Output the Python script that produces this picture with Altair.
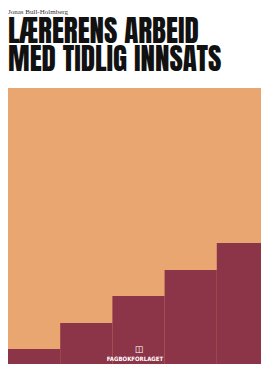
import altair as alt
import pandas as pd

steps = [1, 2, 3, 4, 5]
step_heights = [23, 49, 76, 102, 129]
field_top = [284]

title_lines = ["LÆRERENS ARBEID", "MED TIDLIG INNSATS"]
title_rows = [0, 1]
author = ["Jonas Bull-Holmberg"]
publisher = ["FAGBOKFORLAGET"]

W, H = 253, 356
ORANGE = "#E9A671"
MAROON = "#8C3548"

yscale = alt.Scale(domain=[0, 364], range=[364, 0])
xscale = alt.Scale(domain=steps, range=[0, 261], paddingInner=0, paddingOuter=0)

field = alt.Chart(pd.DataFrame({"top": field_top})).mark_rect(color=ORANGE, clip=True).encode(
    x=alt.value(0), x2=alt.value(W),
    y=alt.Y("top:Q", scale=yscale, axis=None),
    y2=alt.datum(0),
)

stairs = alt.Chart(pd.DataFrame({"step": steps, "h": step_heights})).mark_bar(
    color=MAROON, cornerRadius=0, clip=True
).encode(
    x=alt.X("step:O", scale=xscale, axis=None),
    y=alt.Y("h:Q", scale=yscale, axis=None),
    y2=alt.datum(0),
)

title = alt.Chart(pd.DataFrame({"line": title_lines, "row": title_rows})).mark_text(
    align="left", baseline="alphabetic", font="Anton", fontSize=29, color="#111111"
).encode(
    x=alt.value(0),
    y=alt.Y("row:O", scale=alt.Scale(domain=title_rows, range=[35, 63], padding=0), axis=None),
    text=alt.Text("line:N"),
)

auth = alt.Chart(pd.DataFrame({"a": author})).mark_text(
    align="left", baseline="alphabetic", font="Liberation Serif",
    fontSize=7, color="#333333"
).encode(x=alt.value(0), y=alt.value(6), text="a:N")

icon = alt.Chart(pd.DataFrame({"i": ["◫"]})).mark_text(
    align="center", baseline="middle", font="DejaVu Sans",
    fontSize=9, color="white"
).encode(x=alt.value(131), y=alt.value(341), text="i:N")

pub = alt.Chart(pd.DataFrame({"p": publisher})).mark_text(
    align="center", baseline="middle", font="DejaVu Sans Condensed",
    fontSize=6, fontWeight="bold", color="white"
).encode(x=alt.value(127), y=alt.value(351), text="p:N")

chart = alt.layer(field, stairs, title, auth, icon, pub).properties(
    width=W, height=H,
    autosize=alt.AutoSizeParams(type="none"),
    padding=0,
    background="white",
).configure_view(stroke=None)

chart.save("out.html", embed_options={"renderer": "svg", "actions": False})
